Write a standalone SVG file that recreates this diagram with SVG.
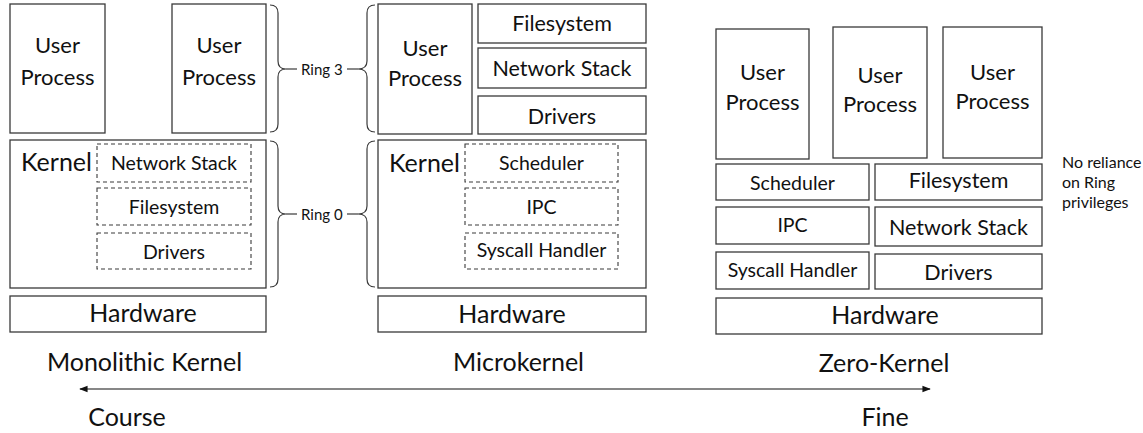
<svg xmlns="http://www.w3.org/2000/svg" width="1143" height="433" viewBox="0 0 1143 433">
  <style>
    .box { fill: #ffffff; stroke: #3a3a3a; stroke-width: 1.3; }
    .dash { fill: none; stroke: #3a3a3a; stroke-width: 1.1; stroke-dasharray: 4 3; }
    .brace { fill: none; stroke: #3a3a3a; stroke-width: 1.2; }
    text { font-family: Lato, "Liberation Sans", sans-serif; fill: #111111; }
    .up { font-size: 22px; text-anchor: middle; }
    .mod { font-size: 19.5px; text-anchor: middle; }
    .mod2 { font-size: 21.5px; text-anchor: middle; }
    .hw { font-size: 25px; text-anchor: middle; }
    .kern { font-size: 25px; }
    .ring { font-size: 15px; }
    .note { font-size: 16px; }
    .cap { font-size: 25px; text-anchor: middle; }
  </style>
  <defs>
    <marker id="head" viewBox="0 0 10 10" refX="9" refY="5" markerWidth="7" markerHeight="7" orient="auto-start-reverse">
      <path d="M0,1 L10,5 L0,9 z" fill="#111111"/>
    </marker>
  </defs>

  <!-- Monolithic kernel stack -->
  <g id="mono-up1"><rect class="box" x="10" y="4" width="95" height="129"/>
    <text class="up" x="57.5" y="53">User</text><text class="up" x="57.5" y="85">Process</text></g>
  <g id="mono-up2"><rect class="box" x="172" y="4" width="94" height="129"/>
    <text class="up" x="219" y="53">User</text><text class="up" x="219" y="85">Process</text></g>
  <g id="mono-kernel"><rect class="box" x="10" y="140" width="256" height="148"/>
    <text class="kern" x="21" y="171">Kernel</text></g>
  <g id="mono-net"><rect class="dash" x="97" y="144" width="154" height="38"/>
    <text class="mod" x="174" y="170">Network Stack</text></g>
  <g id="mono-fs"><rect class="dash" x="97" y="188" width="154" height="37"/>
    <text class="mod" x="174" y="214">Filesystem</text></g>
  <g id="mono-drv"><rect class="dash" x="97" y="233" width="154" height="36"/>
    <text class="mod" x="174" y="259">Drivers</text></g>
  <g id="mono-hw"><rect class="box" x="10" y="296" width="256" height="36"/>
    <text class="hw" x="143" y="322">Hardware</text></g>

  <!-- Privilege ring braces -->
  <g id="ring3">
    <path class="brace" d="M270,5 Q278,5 278,13 L278,61 Q278,69 286,69 Q278,69 278,77 L278,124 Q278,132 270,132"/>
    <path class="brace" d="M286,69 L297,69"/>
    <text class="ring" x="301" y="75">Ring 3</text>
    <path class="brace" d="M347,69 L358,69"/>
    <path class="brace" d="M375,5 Q367,5 367,13 L367,61 Q367,69 358,69 Q367,69 367,77 L367,124 Q367,132 375,132"/>
  </g>
  <g id="ring0">
    <path class="brace" d="M270,141 Q278,141 278,149 L278,206 Q278,214 286,214 Q278,214 278,222 L278,279 Q278,287 270,287"/>
    <path class="brace" d="M286,214 L297,214"/>
    <text class="ring" x="301" y="220">Ring 0</text>
    <path class="brace" d="M347,214 L358,214"/>
    <path class="brace" d="M375,141 Q367,141 367,149 L367,206 Q367,214 358,214 Q367,214 367,222 L367,279 Q367,287 375,287"/>
  </g>

  <!-- Microkernel stack -->
  <g id="micro-up"><rect class="box" x="378" y="4" width="94" height="130"/>
    <text class="up" x="425" y="56">User</text><text class="up" x="425" y="86">Process</text></g>
  <g id="micro-fs"><rect class="box" x="478" y="4" width="168" height="39"/>
    <text class="mod2" x="562" y="31">Filesystem</text></g>
  <g id="micro-net"><rect class="box" x="478" y="48" width="168" height="40"/>
    <text class="mod2" x="562" y="76">Network Stack</text></g>
  <g id="micro-drv"><rect class="box" x="478" y="96" width="168" height="38"/>
    <text class="mod2" x="562" y="124">Drivers</text></g>
  <g id="micro-kernel"><rect class="box" x="378" y="140" width="268" height="148"/>
    <text class="kern" x="389" y="172">Kernel</text></g>
  <g id="micro-sched"><rect class="dash" x="465" y="144" width="153" height="38"/>
    <text class="mod" x="541.5" y="170">Scheduler</text></g>
  <g id="micro-ipc"><rect class="dash" x="465" y="188" width="153" height="37"/>
    <text class="mod" x="541.5" y="214">IPC</text></g>
  <g id="micro-sys"><rect class="dash" x="465" y="233" width="153" height="36"/>
    <text class="mod" x="541.5" y="257">Syscall Handler</text></g>
  <g id="micro-hw"><rect class="box" x="378" y="296" width="268" height="36"/>
    <text class="hw" x="512" y="323">Hardware</text></g>

  <!-- Zero-kernel stack -->
  <g id="zero-up1"><rect class="box" x="716" y="29" width="93" height="130"/>
    <text class="up" x="762.5" y="80">User</text><text class="up" x="762.5" y="110">Process</text></g>
  <g id="zero-up2"><rect class="box" x="833" y="27" width="94" height="131"/>
    <text class="up" x="880" y="83">User</text><text class="up" x="880" y="112">Process</text></g>
  <g id="zero-up3"><rect class="box" x="943" y="27" width="99" height="131"/>
    <text class="up" x="992.5" y="80">User</text><text class="up" x="992.5" y="109">Process</text></g>
  <g id="zero-sched"><rect class="box" x="716" y="164" width="153" height="36"/>
    <text class="mod" x="792.5" y="190">Scheduler</text></g>
  <g id="zero-fs"><rect class="box" x="875" y="164" width="167" height="36"/>
    <text class="mod2" x="958.5" y="188">Filesystem</text></g>
  <g id="zero-ipc"><rect class="box" x="716" y="207" width="153" height="37"/>
    <text class="mod" x="792.5" y="232">IPC</text></g>
  <g id="zero-net"><rect class="box" x="875" y="207" width="167" height="39"/>
    <text class="mod2" x="958.5" y="235">Network Stack</text></g>
  <g id="zero-sys"><rect class="box" x="716" y="252" width="153" height="37"/>
    <text class="mod" x="792.5" y="277">Syscall Handler</text></g>
  <g id="zero-drv"><rect class="box" x="875" y="254" width="167" height="35"/>
    <text class="mod2" x="958.5" y="280">Drivers</text></g>
  <g id="zero-hw"><rect class="box" x="716" y="298" width="326" height="36"/>
    <text class="hw" x="885" y="324">Hardware</text></g>

  <g id="zero-note">
    <text class="note" x="1062" y="168">No reliance</text>
    <text class="note" x="1062" y="188">on Ring</text>
    <text class="note" x="1062" y="208">privileges</text>
  </g>

  <!-- Captions and granularity scale -->
  <g id="captions">
    <text class="cap" x="144.5" y="371">Monolithic Kernel</text>
    <text class="cap" x="518.5" y="371">Microkernel</text>
    <text class="cap" x="884" y="372">Zero-Kernel</text>
    <text class="cap" x="127" y="426">Course</text>
    <text class="cap" x="885" y="426">Fine</text>
  </g>
  <g id="connectors">
    <line x1="80" y1="389" x2="930" y2="389" stroke="#111111" stroke-width="1.2" marker-start="url(#head)" marker-end="url(#head)"/>
  </g>
</svg>
